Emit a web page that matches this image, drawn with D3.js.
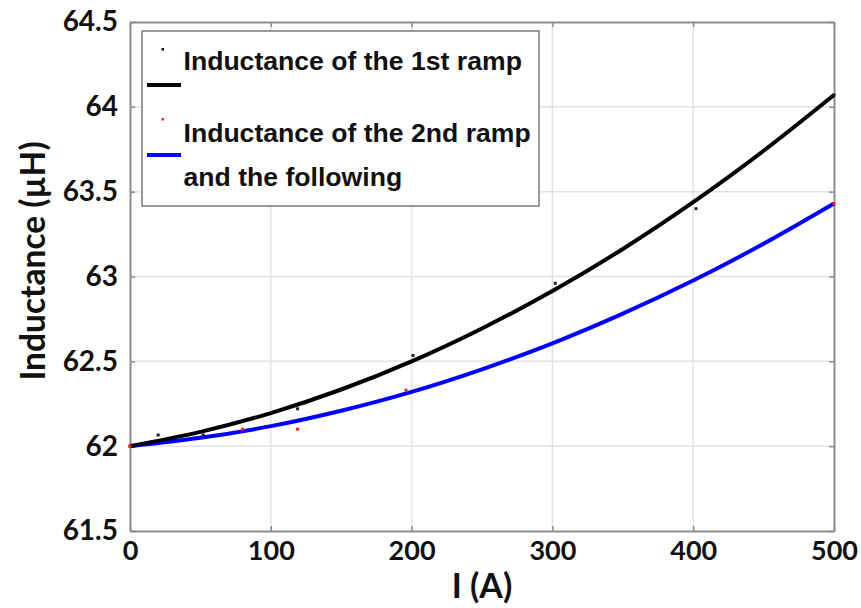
<!DOCTYPE html>
<html><head><meta charset="utf-8">
<script src="https://cdn.jsdelivr.net/npm/d3@7"></script>
<style>
html,body{margin:0;padding:0;background:#fff;}
svg{display:block;}
</style></head>
<body>
<svg id="chart" width="861" height="608"></svg>
<script>
// ---- data ----
const xTicks = [0, 100, 200, 300, 400, 500];
const yTicks = [61.5, 62, 62.5, 63, 63.5, 64, 64.5];
const yTickLabels = ["61.5", "62", "62.5", "63", "63.5", "64", "64.5"];
// fitted curves sampled every 50 A
const curveCurrent = [0, 50, 100, 150, 200, 250, 300, 350, 400, 450, 500];
const curve1st = [62.000, 62.084, 62.195, 62.334, 62.500, 62.694, 62.914, 63.162, 63.438, 63.741, 64.070];
const curve2nd = [62.000, 62.049, 62.118, 62.209, 62.320, 62.453, 62.606, 62.781, 62.976, 63.193, 63.430];
// measured points
const pts1stCurrent = [0, 20, 52, 119, 201, 302, 402, 500];
const pts1stL = [62.00, 62.066, 62.066, 62.22, 62.534, 62.96, 63.40, 64.07];
const pts2ndCurrent = [0, 80, 119, 196, 500];
const pts2ndL = [62.00, 62.10, 62.10, 62.33, 63.43];
const legendLabels = ["Inductance of the 1st ramp", "Inductance of the 2nd ramp", "and the following"];
const xLabel = "I (A)";
const yLabel = "Inductance (\u00B5H)";

const svg = d3.select("#chart");
const L = 130, R = 834, T = 22, B = 531;
const x = d3.scaleLinear().domain([0, 500]).range([L, R]);
const y = d3.scaleLinear().domain([61.5, 64.5]).range([B, T]);

// grid
const grid = svg.append("g");
grid.selectAll("line.vx").data(xTicks.slice(1, -1)).join("line")
  .attr("x1", d => x(d)).attr("x2", d => x(d)).attr("y1", T).attr("y2", B)
  .attr("stroke", "#e2e2e2").attr("stroke-width", 1.5);
grid.selectAll("line.hy").data(yTicks.slice(1, -1)).join("line")
  .attr("x1", L).attr("x2", R).attr("y1", d => y(d)).attr("y2", d => y(d))
  .attr("stroke", "#e2e2e2").attr("stroke-width", 1.5);

// box + ticks via axes
const axisStyle = g => {
  g.select(".domain").attr("stroke", "#8c8c8c").attr("stroke-width", 2);
  g.selectAll(".tick line").attr("stroke", "#8c8c8c").attr("stroke-width", 1.5);
};
const fontTicks = "Lato, 'Open Sans', sans-serif";
const xAxis = svg.append("g").attr("transform", `translate(0,${B})`)
  .call(d3.axisBottom(x).tickValues(xTicks).tickSize(-5).tickPadding(10).tickSizeOuter(0).tickFormat(d3.format("d")));
xAxis.call(axisStyle);
xAxis.selectAll("text").attr("font-family", fontTicks).attr("font-weight", "bold")
  .attr("font-size", 27).attr("fill", "#111").attr("dy", "0.71em");

const yAxis = svg.append("g").attr("transform", `translate(${L},0)`)
  .call(d3.axisLeft(y).tickValues(yTicks).tickSize(-5).tickPadding(12).tickSizeOuter(0)
    .tickFormat((d, i) => yTickLabels[i]));
yAxis.call(axisStyle);
yAxis.selectAll("text").attr("font-family", fontTicks).attr("font-weight", "bold")
  .attr("font-size", 28).attr("fill", "#111");

const xTop = svg.append("g").attr("transform", `translate(0,${T})`)
  .call(d3.axisTop(x).tickValues(xTicks).tickSize(-5).tickSizeOuter(0).tickFormat(""));
xTop.call(axisStyle);
const yRight = svg.append("g").attr("transform", `translate(${R},0)`)
  .call(d3.axisRight(y).tickValues(yTicks).tickSize(-5).tickSizeOuter(0).tickFormat(""));
yRight.call(axisStyle);

// curves
const line = d3.line().x(d => x(d[0])).y(d => y(d[1])).curve(d3.curveMonotoneX);
svg.append("path").datum(curveCurrent.map((c, i) => [c, curve2nd[i]]))
  .attr("d", line).attr("fill", "none").attr("stroke", "#0000ff").attr("stroke-width", 4);
svg.append("path").datum(curveCurrent.map((c, i) => [c, curve1st[i]]))
  .attr("d", line).attr("fill", "none").attr("stroke", "#000").attr("stroke-width", 4);

// points
svg.append("g").selectAll("rect").data(pts1stCurrent.map((c, i) => [c, pts1stL[i]])).join("rect")
  .attr("x", d => x(d[0]) - 1.5).attr("y", d => y(d[1]) - 1.5).attr("width", 3).attr("height", 3)
  .attr("fill", "#222");
svg.append("g").selectAll("rect").data(pts2ndCurrent.map((c, i) => [c, pts2ndL[i]])).join("rect")
  .attr("x", d => x(d[0]) - 1.5).attr("y", d => y(d[1]) - 1.5).attr("width", 3).attr("height", 3)
  .attr("fill", "#ff2020");

// legend
const lg = svg.append("g");
lg.append("rect").attr("x", 142).attr("y", 31).attr("width", 397).attr("height", 175)
  .attr("fill", "#fff").attr("stroke", "#7a7a7a").attr("stroke-width", 1.5);
lg.append("rect").attr("x", 161.5).attr("y", 48).attr("width", 2.5).attr("height", 2.5).attr("fill", "#111");
lg.append("line").attr("x1", 147).attr("x2", 181).attr("y1", 85).attr("y2", 85).attr("stroke", "#000").attr("stroke-width", 4);
lg.append("rect").attr("x", 161.5).attr("y", 118).attr("width", 2.5).attr("height", 2.5).attr("fill", "#ff2020");
lg.append("line").attr("x1", 147).attr("x2", 181).attr("y1", 155).attr("y2", 155).attr("stroke", "#0000ff").attr("stroke-width", 4);
const legFont = "'Liberation Sans', Arial, sans-serif";
const legY = [70, 141.5, 186];
lg.selectAll("text").data(legendLabels).join("text")
  .attr("x", 183.5).attr("y", (d, i) => legY[i]).text(d => d)
  .attr("font-family", legFont).attr("font-weight", "bold").attr("font-size", 26.6).attr("fill", "#111");

// axis titles
svg.append("text").attr("x", (L + R) / 2).attr("y", 598).attr("text-anchor", "middle")
  .attr("font-family", fontTicks).attr("font-weight", "bold").attr("font-size", 34).attr("fill", "#111")
  .text(xLabel);
svg.append("text").attr("transform", `translate(45,261) rotate(-90)`).attr("text-anchor", "middle")
  .attr("font-family", fontTicks).attr("font-weight", "bold").attr("font-size", 33.5).attr("fill", "#111")
  .text(yLabel);
</script>
</body></html>
